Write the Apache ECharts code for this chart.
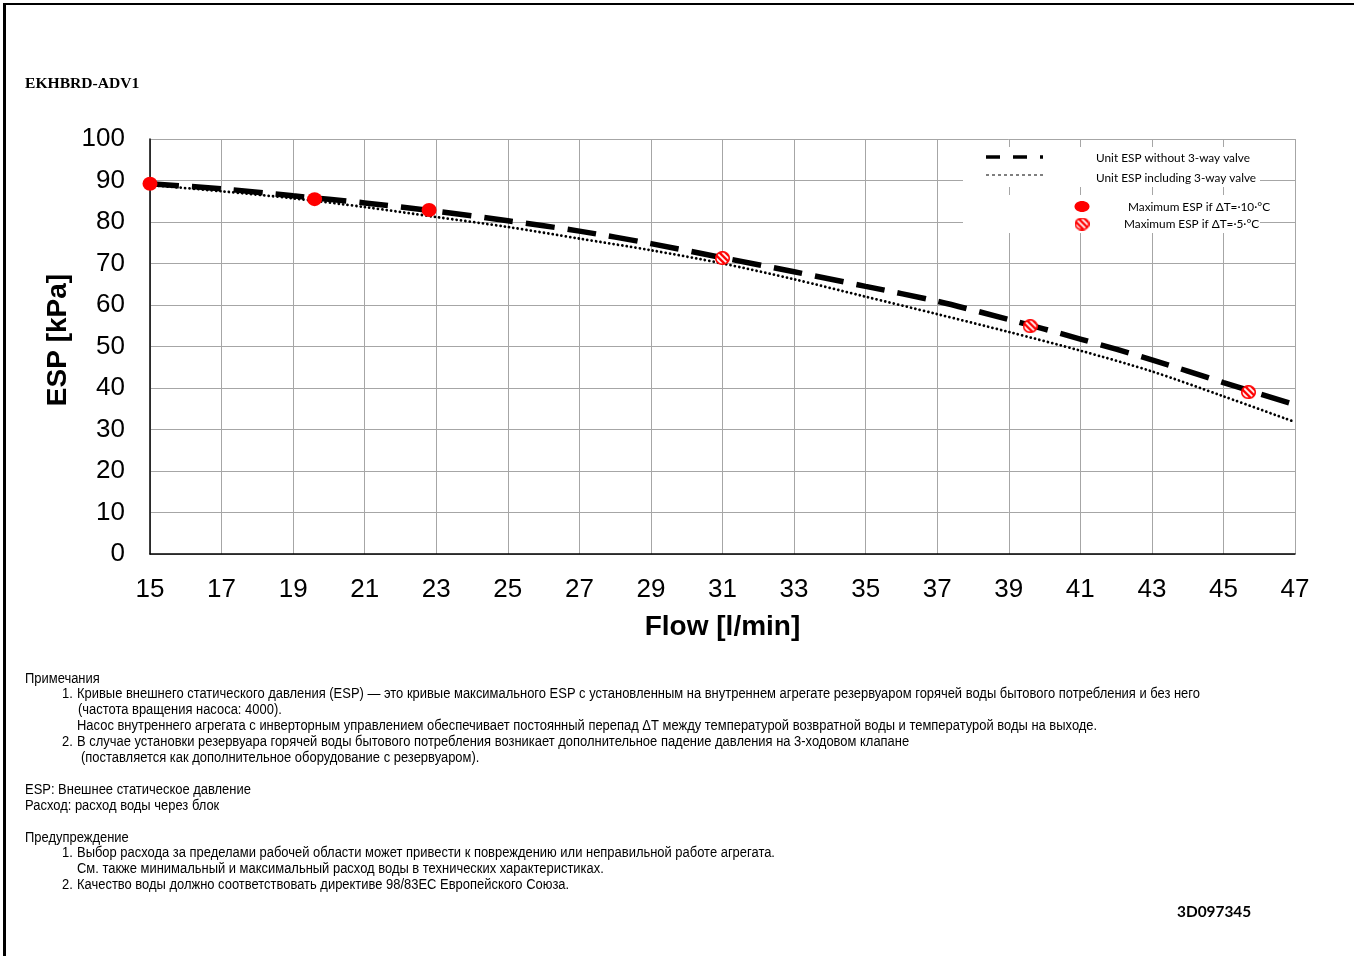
<!DOCTYPE html>
<html>
<head>
<meta charset="utf-8">
<script src="https://cdn.jsdelivr.net/npm/echarts@6/dist/echarts.min.js"></script>
<style>
  html, body { margin: 0; padding: 0; background: #fff; }
  #chart { position: absolute; left: 0; top: 0; width: 1354px; height: 956px; }
  #frame { position: absolute; left: 3px; top: 3px; width: 1351px; height: 953px;
           border-top: 2px solid #000; border-left: 3px solid #000; box-sizing: border-box;
           pointer-events: none; }
</style>
</head>
<body>
<div id="chart"></div>
<div id="frame"></div>
<script>
// Pump curve of the indoor unit: external static pressure vs. water flow
const flowPoints   = [15, 17, 19, 21, 23, 25, 27, 29, 31, 33, 35, 37, 39, 41, 43, 45, 47];
const espWithout   = [89.2, 88.0, 86.3, 84.6, 82.6, 80.3, 77.8, 74.8, 71.4, 68.0, 64.5, 60.9, 56.5, 51.8, 46.8, 41.3, 36.0];
const espIncluding = [88.9, 87.4, 85.7, 83.6, 81.2, 78.8, 76.0, 73.2, 70.0, 66.2, 62.0, 57.8, 53.5, 49.0, 44.0, 38.0, 31.8];

// Maximum ESP operating points
const dt10Flow = [15.0, 19.6, 22.8];
const dt10Esp  = [89.2, 85.5, 82.9];
const dt5Flow  = [31.0, 39.6, 45.7];
const dt5Esp   = [71.3, 54.9, 39.0];

// Axis ranges
const flowMin = 15, flowMax = 47, flowStep = 2;
const espMin = 0, espMax = 100, espStep = 10;

const legendNames = [
  'Unit ESP without 3-way valve',
  'Unit ESP including 3-way valve',
  'Maximum ESP if ΔT=·10·°C',
  'Maximum ESP if ΔT=·5·°C'
];

const notes = [
  { x: 25, y: 679, text: 'Примечания' },
  { x: 62, y: 694, text: '1.' },
  { x: 77, y: 694, text: 'Кривые внешнего статического давления (ESP) — это кривые максимального ESP с установленным на внутреннем агрегате резервуаром горячей воды бытового потребления и без него' },
  { x: 78, y: 710, text: '(частота вращения насоса: 4000).' },
  { x: 77, y: 726, text: 'Насос внутреннего агрегата с инверторным управлением обеспечивает постоянный перепад ΔT между температурой возвратной воды и температурой воды на выходе.' },
  { x: 62, y: 742, text: '2.' },
  { x: 77, y: 742, text: 'В случае установки резервуара горячей воды бытового потребления возникает дополнительное падение давления на 3-ходовом клапане' },
  { x: 81, y: 758, text: '(поставляется как дополнительное оборудование с резервуаром).' },
  { x: 25, y: 790, text: 'ESP: Внешнее статическое давление' },
  { x: 25, y: 806, text: 'Расход: расход воды через блок' },
  { x: 25, y: 838, text: 'Предупреждение' },
  { x: 62, y: 853, text: '1.' },
  { x: 77, y: 853, text: 'Выбор расхода за пределами рабочей области может привести к повреждению или неправильной работе агрегата.' },
  { x: 77, y: 869, text: 'См. также минимальный и максимальный расход воды в технических характеристиках.' },
  { x: 62, y: 885, text: '2.' },
  { x: 77, y: 885, text: 'Качество воды должно соответствовать директиве 98/83EC Европейского Союза.' }
];

// Red circle with white diagonal hatching, rendered to an image for use as a symbol
function hatchedMarker(w, h) {
  const k = 4;
  const c = document.createElement('canvas');
  c.width = w * k; c.height = h * k;
  const g = c.getContext('2d');
  g.scale(k, k);
  const cx = w / 2, cy = h / 2, rx = w / 2 - 0.8, ry = h / 2 - 0.8;
  g.save();
  g.beginPath();
  g.ellipse(cx, cy, rx, ry, 0, 0, Math.PI * 2);
  g.clip();
  g.fillStyle = '#ffffff';
  g.fillRect(0, 0, w, h);
  g.strokeStyle = '#ff0000';
  g.lineWidth = 2.4;
  for (let o = -w; o < w * 2; o += 6) {
    g.beginPath(); g.moveTo(o, 0); g.lineTo(o + h, h); g.stroke();
  }
  g.restore();
  g.beginPath();
  g.ellipse(cx, cy, rx, ry, 0, 0, Math.PI * 2);
  g.strokeStyle = '#ff0000';
  g.lineWidth = 1.6;
  g.stroke();
  return c.toDataURL('image/png');
}
const hatchedSymbol = hatchedMarker(15, 14);
const hatchedLegend = hatchedMarker(15, 13);

// Flow axis ticks start at 15, so plot flow as an offset from flowMin
const toXY = (xs, ys) => xs.map((f, i) => [f - flowMin, ys[i]]);

const notesFont = '14px "Liberation Sans", Arial, sans-serif';
const notesScaleX = 0.925;
const legendFont = '11.8px Lato, "Noto Sans", sans-serif';

const graphics = [
  { type: 'text', x: 25, y: 84, style: { text: 'EKHBRD-ADV1', font: 'bold 15.6px "Liberation Serif", "Times New Roman", serif', fill: '#000', verticalAlign: 'middle' } },
  // vertical axis title
  { type: 'text', x: 58, y: 340, rotation: Math.PI / 2,
    style: { text: 'ESP [kPa]', font: 'bold 28px "Liberation Sans", Arial, sans-serif', fill: '#000', align: 'center', verticalAlign: 'middle' } },
  // legend background
  { type: 'rect', shape: { x: 963, y: 147, width: 297, height: 40 }, style: { fill: '#fff' }, z: 10 },
  { type: 'rect', shape: { x: 963, y: 195, width: 297, height: 38 }, style: { fill: '#fff' }, z: 10 },
  { type: 'line', shape: { x1: 986, y1: 157, x2: 1043, y2: 157 }, style: { stroke: '#000', lineWidth: 3.5, lineDash: [14, 13] }, z: 11 },
  { type: 'line', shape: { x1: 986, y1: 175, x2: 1043, y2: 175 }, style: { stroke: '#000', lineWidth: 1.2, lineDash: [3, 3] }, z: 11 },
  { type: 'ellipse', shape: { cx: 1082, cy: 206.5, rx: 7.5, ry: 5.5 }, style: { fill: '#ff0000' }, z: 11 },
  { type: 'image', style: { image: hatchedLegend, x: 1074.5, y: 217.5, width: 15, height: 13 }, z: 11 },
  { type: 'text', x: 1096, y: 158, style: { text: legendNames[0], font: legendFont, fill: '#000', verticalAlign: 'middle' }, z: 11 },
  { type: 'text', x: 1096, y: 178, style: { text: legendNames[1], font: legendFont, fill: '#000', verticalAlign: 'middle' }, z: 11 },
  { type: 'text', x: 1128, y: 207, style: { text: legendNames[2], font: legendFont, fill: '#000', verticalAlign: 'middle' }, z: 11 },
  { type: 'text', x: 1124, y: 224.5, style: { text: legendNames[3], font: legendFont, fill: '#000', verticalAlign: 'middle' }, z: 11 },
  { type: 'text', x: 1177, y: 912, style: { text: '3D097345', font: 'bold 15.4px Lato, "Noto Sans", sans-serif', fill: '#000', verticalAlign: 'middle' } }
];
notes.forEach(function (n) {
  graphics.push({
    type: 'text', x: n.x, y: n.y, scaleX: notesScaleX, originX: 0, originY: 0,
    style: { text: n.text, font: notesFont, fill: '#000', verticalAlign: 'middle' }
  });
});

const chart = echarts.init(document.getElementById('chart'), null, { renderer: 'canvas' });
chart.setOption({
  animation: false,
  backgroundColor: '#ffffff',
  grid: { left: 150, right: 59, top: 139, bottom: 402, containLabel: false, outerBoundsMode: 'none' },
  xAxis: {
    type: 'value',
    min: 0, max: flowMax - flowMin, interval: flowStep,
    name: 'Flow [l/min]', nameLocation: 'middle', nameGap: 59,
    nameTextStyle: { fontSize: 28, fontWeight: 'bold', color: '#000', fontFamily: '"Liberation Sans", Arial, sans-serif' },
    axisLine: { show: true, onZero: false, lineStyle: { color: '#000', width: 1.5 } },
    axisTick: { show: false },
    axisLabel: { formatter: v => String(v + flowMin), fontSize: 26, color: '#000', margin: 23, fontFamily: '"Liberation Sans", Arial, sans-serif' },
    splitLine: { show: true, lineStyle: { color: '#a6a6a6', width: 1 } }
  },
  yAxis: {
    type: 'value',
    min: espMin, max: espMax, interval: espStep,
    axisLine: { show: true, lineStyle: { color: '#000', width: 1.5 } },
    axisTick: { show: false },
    axisLabel: { fontSize: 26, color: '#000', margin: 25, lineHeight: 30, verticalAlign: 'middle', padding: [4, 0, 0, 0], fontFamily: '"Liberation Sans", Arial, sans-serif' },
    splitLine: { show: true, lineStyle: { color: '#a6a6a6', width: 1 } }
  },
  series: [
    {
      name: legendNames[0], type: 'line', data: toXY(flowPoints, espWithout),
      smooth: 0.3, symbol: 'none', z: 2,
      lineStyle: { color: '#000', width: 5.5, type: [29, 13], cap: 'butt' }
    },
    {
      name: legendNames[1], type: 'line', data: toXY(flowPoints, espIncluding),
      smooth: 0.3, symbol: 'none', z: 3,
      lineStyle: { color: '#000', width: 2.8, type: [0.01, 4.4], cap: 'round' }
    },
    {
      name: legendNames[2], type: 'scatter', data: toXY(dt10Flow, dt10Esp),
      symbol: 'circle', symbolSize: [15, 14], z: 5,
      itemStyle: { color: '#ff0000', opacity: 1 }
    },
    {
      name: legendNames[3], type: 'scatter', data: toXY(dt5Flow, dt5Esp),
      symbol: 'image://' + hatchedSymbol, symbolSize: [15, 14], z: 5,
      itemStyle: { opacity: 1 }
    }
  ],
  graphic: graphics
});
</script>
</body>
</html>
